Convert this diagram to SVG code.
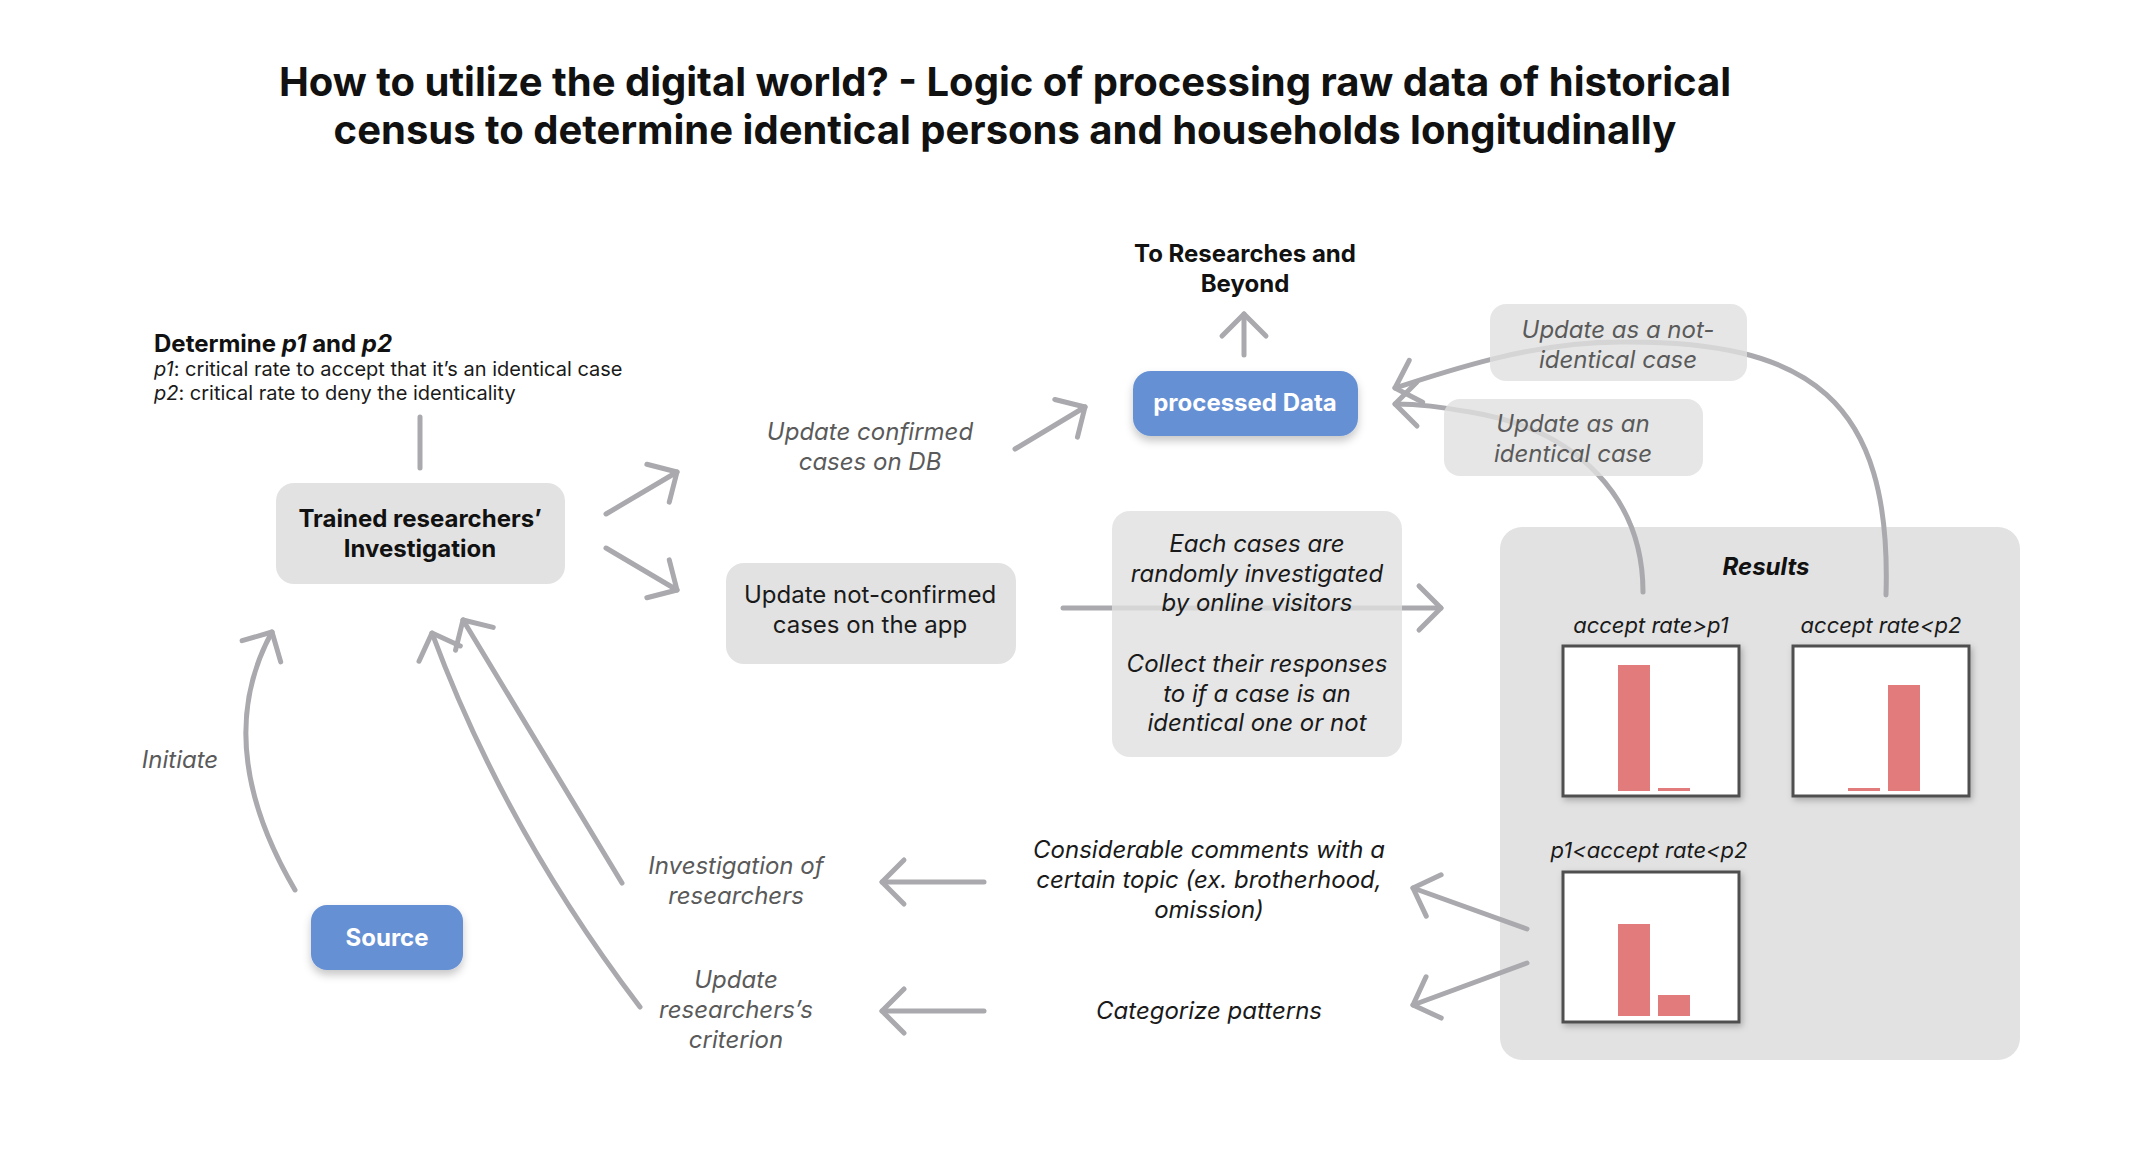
<svg xmlns="http://www.w3.org/2000/svg" width="2150" height="1168" viewBox="0 0 2150 1168">
<style>
text{font-family:Inter,"Noto Sans","Liberation Sans",sans-serif}
.title{font-size:40px;font-weight:700;fill:#111;text-anchor:middle}
.b{font-weight:700;fill:#111}
.lbl{font-size:24px;font-style:italic;fill:#5a5a5a;text-anchor:middle}
.blk{font-size:24px;font-style:italic;fill:#1a1a1a;text-anchor:middle}
.reg{font-size:24px;fill:#1a1a1a;text-anchor:middle}
.wt{font-size:24px;font-weight:700;fill:#fff;text-anchor:middle}
.box{fill:#E2E2E2}
.tbox{fill:#E0E0E0;fill-opacity:0.8}
.blue{fill:#6690D4}
.con{fill:none;stroke:#A9A9AE;stroke-width:5;stroke-linecap:round;stroke-linejoin:round}
.arr{marker-end:url(#ah)}
.frame{fill:#fff;stroke:#4f4f4f;stroke-width:3}
.bar{fill:#E27B7B}
</style>
<defs>
<marker id="ah" markerUnits="userSpaceOnUse" orient="auto" markerWidth="60" markerHeight="60" viewBox="-30 -30 60 60" refX="0" refY="0" overflow="visible">
<path d="M -22 -22 L 0 0 L -22 22" fill="none" stroke="#A9A9AE" stroke-width="5" stroke-linecap="round" stroke-linejoin="round"/>
</marker>
<filter id="sh" x="-20%" y="-20%" width="140%" height="160%">
<feDropShadow dx="0" dy="5" stdDeviation="4" flood-color="#000" flood-opacity="0.22"/>
</filter>
<filter id="sh2" x="-10%" y="-10%" width="125%" height="125%">
<feDropShadow dx="2" dy="3" stdDeviation="3" flood-color="#000" flood-opacity="0.25"/>
</filter>
</defs>
<rect width="2150" height="1168" fill="#fff"/>

<g id="title">
<text class="title" x="1005" y="96">How to utilize the digital world? - Logic of processing raw data of historical</text>
<text class="title" x="1005" y="144">census to determine identical persons and households longitudinally</text>
</g>

<g id="results">
<rect class="box" x="1500" y="527" width="520" height="533" rx="22"/>
<text x="1766" y="575" style="font-size:24px;font-weight:700;font-style:italic;fill:#111;text-anchor:middle">Results</text>
<text class="blk" x="1651" y="633" style="font-size:22px">accept rate&gt;p1</text>
<text class="blk" x="1881" y="633" style="font-size:22px">accept rate&lt;p2</text>
<text class="blk" x="1649" y="858" style="font-size:22px">p1&lt;accept rate&lt;p2</text>
<rect class="frame" x="1563" y="646" width="176" height="150" filter="url(#sh2)"/>
<rect class="bar" x="1618" y="665" width="32" height="126"/>
<rect class="bar" x="1658" y="788" width="32" height="3"/>
<rect class="frame" x="1793" y="646" width="176" height="150" filter="url(#sh2)"/>
<rect class="bar" x="1848" y="788" width="32" height="3"/>
<rect class="bar" x="1888" y="685" width="32" height="106"/>
<rect class="frame" x="1563" y="872" width="176" height="150" filter="url(#sh2)"/>
<rect class="bar" x="1618" y="924" width="32" height="92"/>
<rect class="bar" x="1658" y="995" width="32" height="21"/>
</g>

<g id="connectors">
<path class="con" d="M 420 417 L 420 468"/>
<path class="con arr" d="M 606 514 L 677 472"/>
<path class="con arr" d="M 606 548 L 677 590"/>
<path class="con arr" d="M 1015 449 L 1085 407"/>
<path class="con arr" d="M 1244 355 L 1244 314"/>
<path class="con arr" d="M 1063 608 L 1441 608"/>
<path class="con arr" d="M 1886 595 C 1892 400, 1810 340, 1620 342 C 1530 342, 1445 372, 1395 388"/>
<path class="con arr" d="M 1643 592 C 1643 500, 1580 430, 1470 412 C 1440 407, 1420 404, 1395 404"/>
<path class="con arr" d="M 1527 929 L 1413 888"/>
<path class="con arr" d="M 1527 963 L 1413 1005"/>
<path class="con arr" d="M 984 882 L 882 882"/>
<path class="con arr" d="M 984 1011 L 882 1011"/>
<path class="con arr" d="M 295 890 Q 210 745 272 632"/>
<path class="con arr" d="M 622 883 L 463 620"/>
<path class="con arr" d="M 640 1007 Q 505 830 432 633"/>
</g>

<g id="determine">
<text x="154" y="352" style="font-size:24px" class="b">Determine <tspan font-style="italic">p1</tspan> and <tspan font-style="italic">p2</tspan></text>
<text x="154" y="376" style="font-size:20px;fill:#1a1a1a"><tspan font-style="italic">p1</tspan>: critical rate to accept that it’s an identical case</text>
<text x="154" y="400" style="font-size:20px;fill:#1a1a1a"><tspan font-style="italic">p2</tspan>: critical rate to deny the identicality</text>
</g>

<g id="trained">
<rect class="box" x="276" y="483" width="289" height="101" rx="18"/>
<text class="b" x="420" y="527" style="font-size:24px;text-anchor:middle">Trained researchers’</text>
<text class="b" x="420" y="557" style="font-size:24px;text-anchor:middle">Investigation</text>
</g>

<g id="confirmed-label">
<text class="lbl" x="870" y="440">Update confirmed</text>
<text class="lbl" x="870" y="470">cases on DB</text>
</g>

<g id="processed">
<rect class="blue" x="1133" y="371" width="225" height="65" rx="18" filter="url(#sh)"/>
<text class="wt" x="1245" y="411">processed Data</text>
</g>

<g id="researches">
<text class="b" x="1245" y="262" style="font-size:24px;text-anchor:middle">To Researches and</text>
<text class="b" x="1245" y="292" style="font-size:24px;text-anchor:middle">Beyond</text>
</g>

<g id="not-identical">
<rect class="tbox" x="1490" y="304" width="257" height="77" rx="16"/>
<text class="lbl" x="1618" y="338">Update as a not-</text>
<text class="lbl" x="1618" y="368">identical case</text>
</g>

<g id="identical">
<rect class="tbox" x="1444" y="399" width="259" height="77" rx="16"/>
<text class="lbl" x="1573" y="432">Update as an</text>
<text class="lbl" x="1573" y="462">identical case</text>
</g>

<g id="not-confirmed">
<rect class="box" x="726" y="563" width="290" height="101" rx="18"/>
<text class="reg" x="870" y="603">Update not-confirmed</text>
<text class="reg" x="870" y="633">cases on the app</text>
</g>

<g id="each-cases">
<rect class="tbox" x="1112" y="511" width="290" height="246" rx="18"/>
<text class="blk" x="1257" y="552">Each cases are</text>
<text class="blk" x="1257" y="582">randomly investigated</text>
<text class="blk" x="1257" y="611">by online visitors</text>
<text class="blk" x="1257" y="672">Collect their responses</text>
<text class="blk" x="1257" y="702">to if a case is an</text>
<text class="blk" x="1257" y="731">identical one or not</text>
</g>

<g id="comments">
<text class="blk" x="1209" y="858">Considerable comments with a</text>
<text class="blk" x="1209" y="888">certain topic (ex. brotherhood,</text>
<text class="blk" x="1209" y="918">omission)</text>
</g>

<g id="categorize">
<text class="blk" x="1209" y="1019">Categorize patterns</text>
</g>

<g id="investigation-label">
<text class="lbl" x="736" y="874">Investigation of</text>
<text class="lbl" x="736" y="904">researchers</text>
</g>

<g id="criterion-label">
<text class="lbl" x="736" y="988">Update</text>
<text class="lbl" x="736" y="1018">researchers’s</text>
<text class="lbl" x="736" y="1048">criterion</text>
</g>

<g id="source">
<rect class="blue" x="311" y="905" width="152" height="65" rx="16" filter="url(#sh)"/>
<text class="wt" x="387" y="946">Source</text>
</g>

<g id="initiate-label">
<text class="lbl" x="180" y="768">Initiate</text>
</g>
</svg>
